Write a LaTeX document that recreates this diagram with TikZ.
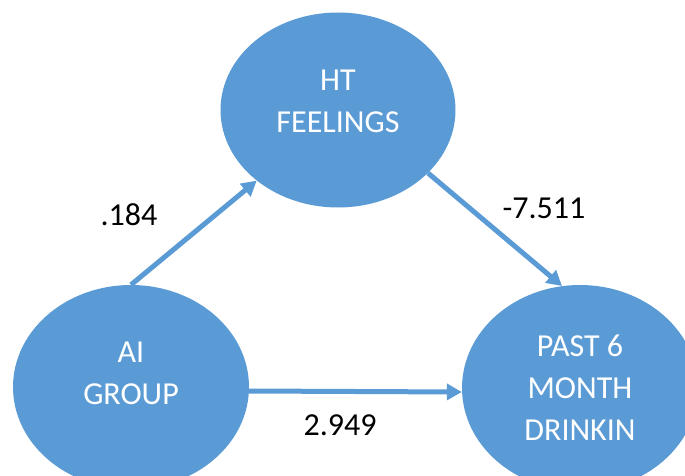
\documentclass[tikz,border=0pt]{standalone}
\usepackage{fontspec}
\setmainfont{Carlito}
\usetikzlibrary{shapes.geometric,arrows.meta}
\definecolor{officeblue}{HTML}{5B9BD5}
\tikzset{
  bubble/.style={ellipse, fill=officeblue, draw=none, text=white,
    align=center, font=\fontsize{32}{42}\selectfont, inner sep=0pt},
  path arrow/.style={draw=officeblue, line width=5pt,
    -{Triangle[length=15pt, width=16pt]}},
  coef/.style={font=\fontsize{32}{36}\selectfont, text=black, inner sep=0pt}
}
% a centred block of lines, lifted by #1 (plus the math axis), taking no room
\newcommand{\liftlines}[2]{\raisebox{#1}[0pt][0pt]{\begin{tabular}{@{}c@{}}#2\end{tabular}}}
\begin{document}
\begin{tikzpicture}[x=1pt, y=-1pt]
  \useasboundingbox (0,0) rectangle (685,476);
  \clip (0,0) rectangle (685,476);
  % variables
  \node[bubble, minimum width=235pt, minimum height=195pt] (ht) at (338,110)
    {\liftlines{1pt}{HT\\FEELINGS}};
  \node[bubble, minimum width=236pt, minimum height=204pt] (ai) at (131,387)
    {\liftlines{6pt}{AI\\GROUP}};
  \node[bubble, minimum width=236pt, minimum height=206pt] (past) at (580,388)
    {\liftlines{-8pt}{PAST 6\\MONTH\\DRINKIN}};
  % paths
  \draw[path arrow] (ai.north) -- (ht.221);
  \draw[path arrow] (ht.325) -- (past.100);
  \draw[path arrow] ([yshift=-4pt]ai.east) -- ([yshift=-4pt]past.west);
  % coefficients
  \node[coef] (c1) at (129,215) {.184};
  \node[coef] (c2) at (544,208) {-7.511};
  \node[coef] (c3) at (340,425) {2.949};
\end{tikzpicture}
\end{document}
